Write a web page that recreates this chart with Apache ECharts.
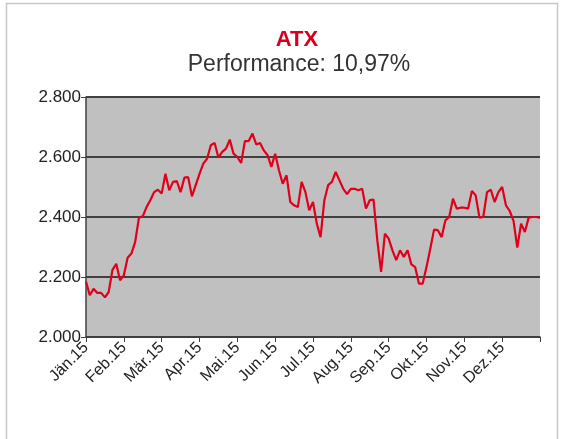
<!DOCTYPE html>
<html>
<head>
<meta charset="utf-8">
<script src="https://cdn.jsdelivr.net/npm/echarts@6/dist/echarts.min.js"></script>
<style>
  html, body { margin: 0; padding: 0; background: #fff; }
  #main { width: 565px; height: 439px; }
</style>
</head>
<body>
<div id="main"></div>
<script>
// Monatsbeschriftung (je 10 Punkte pro Monat)
var months = ["Jän.15", "Feb.15", "Mär.15", "Apr.15", "Mai.15", "Jun.15",
  "Jul.15", "Aug.15", "Sep.15", "Okt.15", "Nov.15", "Dez.15"];
var pointsPerMonth = 10;

// ATX Schlusskurse 2015
var atxH1 = [
  2185, 2139, 2161, 2147, 2147, 2132, 2150, 2224, 2244, 2189,
  2206, 2264, 2278, 2317, 2398, 2402, 2433, 2456, 2483, 2491,
  2478, 2544, 2489, 2517, 2520, 2483, 2531, 2533, 2469, 2506,
  2544, 2578, 2594, 2639, 2647, 2598, 2617, 2628, 2658, 2611,
  2600, 2580, 2653, 2653, 2678, 2642, 2647, 2622, 2606, 2567,
  2611, 2556, 2511, 2539, 2450, 2439, 2433, 2517, 2483, 2422
];
var atxH2 = [
  2450, 2378, 2333, 2456, 2506, 2517, 2550, 2522, 2494, 2476,
  2494, 2494, 2489, 2494, 2428, 2456, 2458, 2322, 2217, 2344,
  2328, 2289, 2256, 2289, 2267, 2289, 2242, 2233, 2178, 2178,
  2233, 2294, 2358, 2356, 2333, 2389, 2400, 2461, 2428, 2431,
  2431, 2428, 2487, 2472, 2398, 2400, 2483, 2491, 2450, 2483,
  2500, 2439, 2420, 2387, 2298, 2378, 2350, 2398, 2400, 2400,
  2398
];
var yMin = 2000, yMax = 2800, yStep = 200;

var atxValues = atxH1.concat(atxH2);
var categories = atxValues.map(function(v, i) {
  var m = i / pointsPerMonth;
  return (i % pointsPerMonth === 0 && m < months.length) ? months[m] : "";
});

var chart = echarts.init(document.getElementById("main"));
chart.setOption({
  animation: false,
  backgroundColor: "#fff",
  graphic: [{
    type: "rect",
    shape: { x: 6.5, y: 3.5, width: 551, height: 440 },
    style: { fill: "none", stroke: "#c8c8c8", lineWidth: 1.5 }
  }],
  title: [
    {
      text: "ATX",
      left: 292,
      top: 24,
      textAlign: "center",
      textStyle: { color: "#d8001c", fontSize: 22, fontWeight: "bold", fontFamily: "Liberation Sans" }
    },
    {
      text: "Performance: 10,97%",
      left: 294,
      top: 48,
      textAlign: "center",
      textStyle: { color: "#333", fontSize: 23, fontWeight: "normal", fontFamily: "Liberation Sans" }
    }
  ],
  grid: {
    left: 86,
    right: 25,
    top: 97,
    bottom: 102,
    show: true,
    backgroundColor: "#c0c0c0",
    borderWidth: 0
  },
  xAxis: {
    type: "category",
    data: categories,
    boundaryGap: false,
    axisLine: { lineStyle: { color: "#404040", width: 1.5 } },
    axisTick: {
      show: true,
      length: 5,
      interval: function(index) { return index % pointsPerMonth === 0; },
      lineStyle: { color: "#404040" }
    },
    axisLabel: {
      rotate: 45,
      margin: 8,
      interval: function(index, value) { return value !== ""; },
      color: "#222",
      fontSize: 16,
      fontFamily: "Liberation Sans"
    },
    splitLine: { show: false }
  },
  yAxis: {
    type: "value",
    min: yMin,
    max: yMax,
    interval: yStep,
    axisLine: { show: true, lineStyle: { color: "#404040", width: 1.5 } },
    axisTick: { show: true, length: 5, lineStyle: { color: "#404040" } },
    axisLabel: {
      margin: 5,
      color: "#222",
      fontSize: 17,
      fontFamily: "Liberation Sans",
      formatter: function(v) {
        return String(v).replace(/\B(?=(\d{3})+(?!\d))/g, ".");
      }
    },
    splitLine: { show: true, lineStyle: { color: "#404040", width: 2 } }
  },
  series: [{
    name: "ATX",
    type: "line",
    data: atxValues,
    showSymbol: false,
    lineStyle: { color: "#e0001b", width: 2.2 },
    itemStyle: { color: "#e0001b" }
  }]
});
</script>
</body>
</html>
